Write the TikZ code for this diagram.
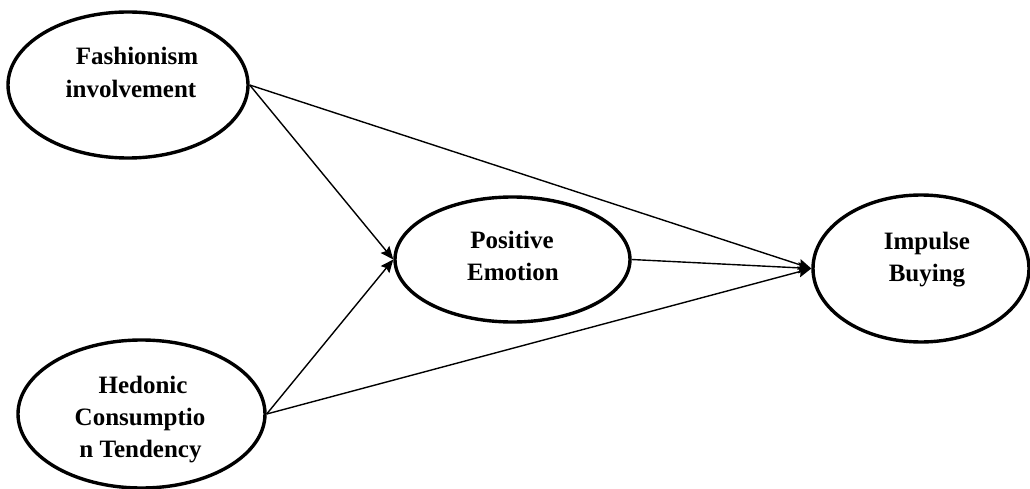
\documentclass[tikz,border=0pt]{standalone}
\usepackage{fontspec}
\setmainfont{Liberation Serif}
\usetikzlibrary{shapes.geometric,arrows.meta}
\tikzset{
  construct/.style={draw, ellipse, line width=3.4pt, inner sep=0pt},
  lbl/.style={anchor=base, inner sep=0pt, font=\fontsize{25}{32}\selectfont\bfseries},
  path/.style={line width=1.4pt, -{Stealth[length=13pt,width=11pt,inset=2pt]}}
}
\begin{document}
\begin{tikzpicture}[x=1pt,y=-1pt]
\useasboundingbox (0,0) rectangle (1030,489);
\node[construct, minimum width=240pt, minimum height=146pt] (F) at (128,85) {};
\node[construct, minimum width=247pt, minimum height=148pt] (H) at (141.5,414) {};
\node[construct, minimum width=235pt, minimum height=125pt] (P) at (512.5,259.5) {};
\node[construct, minimum width=216pt, minimum height=147pt] (I) at (921,268.5) {};

\node[lbl] (F1) at (137,65) {Fashionism};
\node[lbl] (F2) at (131,98) {involvement};
\node[lbl] (H1) at (143,393) {Hedonic};
\node[lbl] (H2) at (140,425) {Consumptio};
\node[lbl] (H3) at (140.5,457) {n Tendency};
\node[lbl] (P1) at (512,248) {Positive};
\node[lbl] (P2) at (513,280) {Emotion};
\node[lbl] (I1) at (927,249) {Impulse};
\node[lbl] (I2) at (927,281) {Buying};

\draw[path] (F.east) -- (I.west);
\draw[path] (F.east) -- (P.west);
\draw[path] (H.east) -- (P.west);
\draw[path] (H.east) -- (I.west);
\draw[path] (P.east) -- (I.west);
\end{tikzpicture}
\end{document}
